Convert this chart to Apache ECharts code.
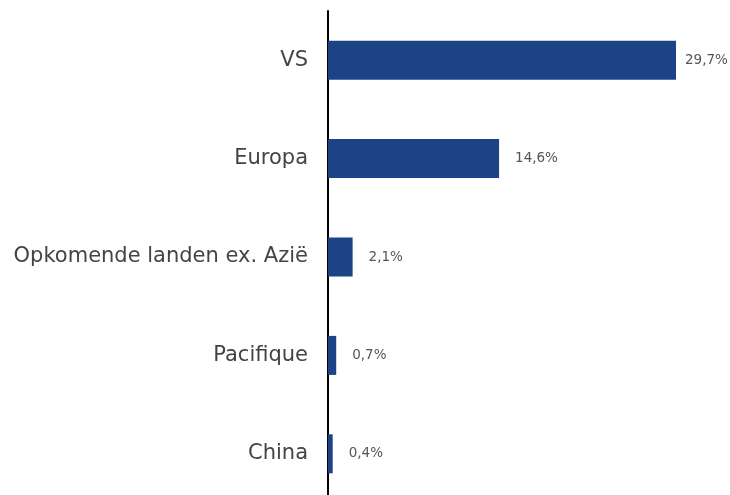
<!DOCTYPE html>
<html>
<head>
<meta charset="utf-8">
<style>
  html, body { margin: 0; padding: 0; background: #fff; }
  #chart { width: 730px; height: 495px; }
</style>
<script src="https://cdn.jsdelivr.net/npm/echarts@6/dist/echarts.min.js"></script>
</head>
<body>
<div id="chart"></div>
<script>
// regio's en gewichten (%)
const categories = ['VS', 'Europa', 'Opkomende landen ex. Azië', 'Pacifique', 'China']
const weights = [29.7, 14.6, 2.1, 0.7, 0.4]

const chart = echarts.init(document.getElementById('chart'))

const barData = weights.map((v, i) => ({
    value: v,
    label: { distance: i === 0 ? 9 : 16 }
}))

const option = {
    backgroundColor: '#fff',
    animation: false,
    grid: {
        left: 328,
        top: 11,
        height: 492,
        width: 351.5,
        outerBoundsMode: 'none'
    },
    xAxis: {
        type: 'value',
        min: 0,
        max: 30,
        show: false
    },
    yAxis: {
        type: 'category',
        data: categories,
        inverse: true,
        axisTick: { show: false },
        axisLine: {
            show: true,
            lineStyle: { color: '#000', width: 2 }
        },
        axisLabel: {
            margin: 20,
            fontSize: 21,
            fontFamily: 'DejaVu Sans',
            color: '#444'
        }
    },
    series: [
        {
            type: 'bar',
            data: barData,
            barWidth: 39,
            itemStyle: { color: '#1b4386' },
            label: {
                show: true,
                position: 'right',
                fontSize: 13.5,
                fontFamily: 'DejaVu Sans',
                color: '#555',
                formatter: p => p.value.toFixed(1).replace('.', ',') + '%'
            }
        }
    ]
}
chart.setOption(option)
</script>
</body>
</html>
